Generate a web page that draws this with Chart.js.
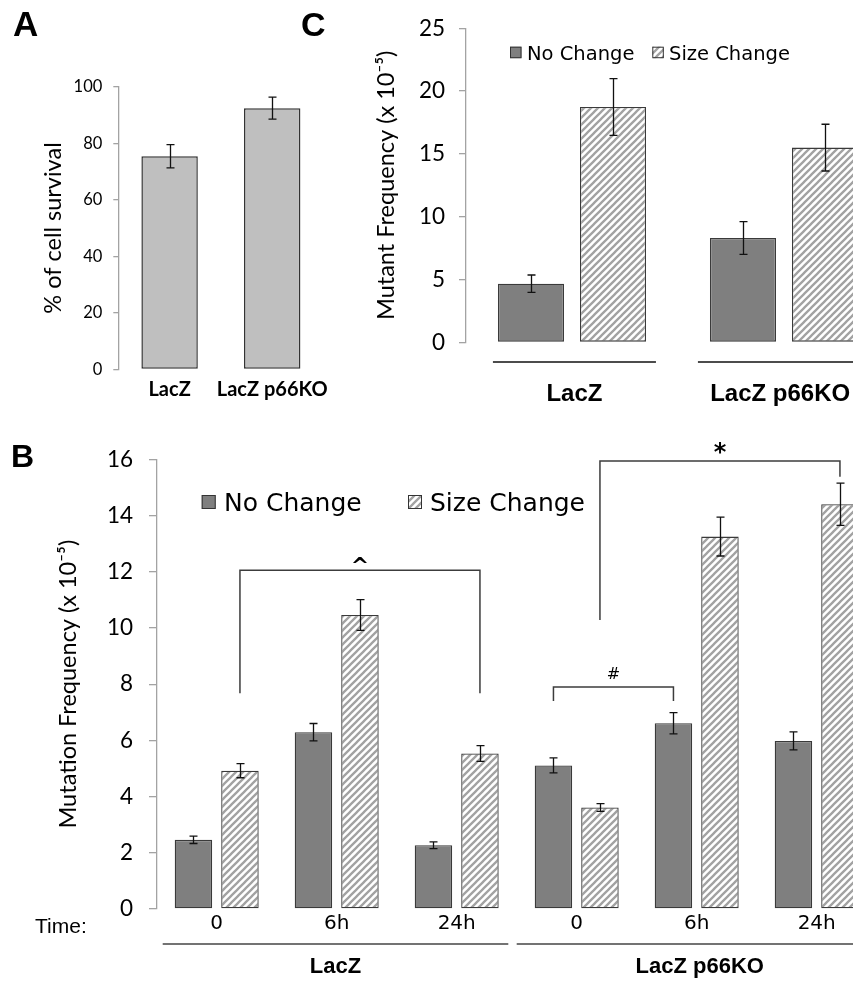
<!DOCTYPE html>
<html><head><meta charset="utf-8">
<script src="https://cdn.jsdelivr.net/npm/chart.js@4.4.0/dist/chart.umd.min.js"></script>
<style>
html,body{margin:0;padding:0;background:#fff;overflow:hidden;width:853px;height:981px;}
#wrap{position:relative;width:853px;height:981px;overflow:hidden;background:#fff;}
canvas{position:absolute;}
.pl{position:absolute;font-family:'Liberation Sans',Arial,sans-serif;font-weight:bold;line-height:1;color:#000;}
</style></head><body>
<div id="wrap">
<canvas id="cA" width="340" height="410" style="left:0px;top:0px"></canvas>
<canvas id="cC" width="600" height="420" style="left:300px;top:0px"></canvas>
<canvas id="cB" width="900" height="561" style="left:0px;top:420px"></canvas>
<div class="pl" style="left:13px;top:6px;font-size:35px">A</div>
<div class="pl" style="left:301px;top:7px;font-size:34px">C</div>
<div class="pl" style="left:11px;top:440px;font-size:32px">B</div>
</div>
<script>
// ---------- DATA ----------
// Panel A
const categoriesA = ['LacZ', 'LacZ p66KO'];
const survival = [75.4, 92.4];
const survivalErr = [4.1, 3.9];
// Panel C
const categoriesC = ['LacZ', 'LacZ p66KO'];
const cNoChange = [4.67, 8.30];
const cNoChangeErr = [0.69, 1.30];
const cSizeChange = [18.73, 15.50];
const cSizeChangeErr = [2.26, 1.86];
// Panel B
const timeLabels = ['0', '6h', '24h', '0', '6h', '24h'];
const groupLabels = ['LacZ', 'LacZ p66KO'];
const bNoChange = [2.46, 6.29, 2.27, 5.11, 6.61, 5.98];
const bNoChangeErr = [0.13, 0.31, 0.12, 0.27, 0.38, 0.32];
const bSizeChange = [4.92, 10.46, 5.53, 3.61, 13.25, 14.40];
const bSizeChangeErr = [0.25, 0.55, 0.28, 0.14, 0.69, 0.75];
const seriesNames = ['No Change', 'Size Change'];

// ---------- helpers ----------
function makeHatch(p, color, lw) {
  const c = document.createElement('canvas');
  c.width = p; c.height = p;
  const g = c.getContext('2d');
  g.fillStyle = '#fff'; g.fillRect(0, 0, p, p);
  g.strokeStyle = color; g.lineWidth = lw;
  g.beginPath();
  g.moveTo(-1, p + 1); g.lineTo(p + 1, -1);
  g.moveTo(-p / 2 - 1, p / 2 + 1); g.lineTo(p / 2 + 1, -p / 2 - 1);
  g.moveTo(p / 2 - 1, p * 1.5 + 1); g.lineTo(p * 1.5 + 1, p / 2 - 1);
  g.stroke();
  return g.createPattern(c, 'repeat');
}
const hatch = makeHatch(7, '#a2a2a2', 2.3);
const AXIS_GRAY = '#a3a3a3';

function yAxis(min, max, step, tickSize, tickPad, tickLen, width, title, titleSize, titlePad) {
  return {
    min: min, max: max,
    ticks: { stepSize: step, font: { family: 'Lato', size: tickSize }, color: '#000', padding: tickPad },
    grid: { display: true, drawOnChartArea: false, drawTicks: true, tickLength: tickLen, color: AXIS_GRAY, lineWidth: 1.3 },
    border: { display: true, color: AXIS_GRAY, width: 1.3 },
    title: { display: true, text: title, font: { family: 'Lato', size: titleSize }, color: '#000', padding: { top: titlePad, bottom: 0 } },
    afterFit: function (s) { s.width = width; }
  };
}

const errorBars = {
  id: 'errorBars',
  afterDatasetsDraw(chart) {
    const ctx = chart.ctx, ys = chart.scales.y;
    chart.data.datasets.forEach((ds, di) => {
      if (!ds.errors) return;
      const meta = chart.getDatasetMeta(di);
      meta.data.forEach((bar, i) => {
        const v = ds.data[i], e = ds.errors[i];
        const x = Math.round(bar.x) + 0.5;
        const y1 = ys.getPixelForValue(v + e), y2 = ys.getPixelForValue(v - e);
        ctx.save();
        ctx.strokeStyle = '#111'; ctx.lineWidth = 1.3;
        ctx.beginPath();
        ctx.moveTo(x, y1); ctx.lineTo(x, y2);
        ctx.moveTo(x - 4, y1); ctx.lineTo(x + 4, y1);
        ctx.moveTo(x - 4, y2); ctx.lineTo(x + 4, y2);
        ctx.stroke();
        ctx.restore();
      });
    });
  }
};

const customLegend = {
  id: 'customLegend',
  afterDraw(chart, args, o) {
    if (!o || !o.items) return;
    const ctx = chart.ctx;
    ctx.save();
    ctx.font = o.font;
    ctx.textBaseline = 'alphabetic';
    o.items.forEach((it, i) => {
      const ds = chart.data.datasets[i];
      ctx.fillStyle = ds.backgroundColor;
      ctx.fillRect(it.x, o.y, o.size, o.size);
      ctx.strokeStyle = '#333'; ctx.lineWidth = 1;
      ctx.strokeRect(it.x + 0.5, o.y + 0.5, o.size - 1, o.size - 1);
      ctx.fillStyle = '#000';
      ctx.fillText(ds.label, it.tx, o.baseline);
    });
    ctx.restore();
  }
};

const groupLines = {
  id: 'groupLines',
  afterDraw(chart, args, o) {
    if (!o || !o.groups) return;
    const ctx = chart.ctx, xs = chart.scales.x, bottom = chart.chartArea.bottom;
    ctx.save();
    o.groups.forEach((g, i) => {
      const x1 = xs.getPixelForValue(g.from), x2 = xs.getPixelForValue(g.to);
      ctx.strokeStyle = o.lineColor; ctx.lineWidth = 1.6;
      ctx.beginPath();
      ctx.moveTo(x1, bottom + o.lineDy); ctx.lineTo(x2, bottom + o.lineDy);
      ctx.stroke();
      ctx.fillStyle = '#000'; ctx.font = o.font;
      ctx.textAlign = 'center'; ctx.textBaseline = 'alphabetic';
      ctx.fillText(o.labels[i], (x1 + x2) / 2, bottom + o.labelDy);
    });
    if (o.extra) {
      ctx.font = o.extra.font; ctx.textAlign = 'left';
      ctx.fillText(o.extra.text, o.extra.x, bottom + o.extra.dy);
    }
    ctx.restore();
  }
};

const brackets = {
  id: 'brackets',
  afterDatasetsDraw(chart, args, o) {
    if (!o || !o.items) return;
    const ctx = chart.ctx, ys = chart.scales.y;
    ctx.save();
    o.items.forEach(b => {
      const xa = chart.getDatasetMeta(b.from[0]).data[b.from[1]].x;
      const xb = chart.getDatasetMeta(b.to[0]).data[b.to[1]].x;
      const yt = ys.getPixelForValue(b.top);
      const ya = ys.getPixelForValue(b.bottoms[0]);
      const yb = ys.getPixelForValue(b.bottoms[1]);
      ctx.strokeStyle = '#3c3c3c'; ctx.lineWidth = 1.5;
      ctx.beginPath();
      ctx.moveTo(xa, ya); ctx.lineTo(xa, yt); ctx.lineTo(xb, yt); ctx.lineTo(xb, yb);
      ctx.stroke();
      ctx.fillStyle = '#000'; ctx.font = b.font;
      ctx.textAlign = 'center'; ctx.textBaseline = 'alphabetic';
      ctx.fillText(b.sym, (xa + xb) / 2, yt + b.symDy);
    });
    ctx.restore();
  }
};

// ---------- Panel A ----------
new Chart(document.getElementById('cA'), {
  type: 'bar',
  data: {
    labels: categoriesA,
    datasets: [{
      label: '% of cell survival', data: survival, errors: survivalErr,
      backgroundColor: '#bfbfbf', borderColor: '#333', borderWidth: 1.5, borderSkipped: false,
      categoryPercentage: 0.55, barPercentage: 1
    }]
  },
  options: {
    responsive: false, animation: false,
    layout: { padding: { left: 0, top: 86.7, right: 14.7, bottom: 0 } },
    plugins: { legend: { display: false }, tooltip: { enabled: false } },
    scales: {
      x: {
        ticks: { font: { family: 'Lato', size: 20, weight: 'bold' }, color: '#000', padding: 8.7, autoSkip: false, maxRotation: 0 },
        grid: { display: false, drawTicks: false }, border: { display: false },
        afterFit: function (s) { s.height = 40.7; }
      },
      y: yAxis(0, 100, 20, 16.5, 11, 5, 118.3, '% of cell survival', 23.5, 38.9)
    }
  },
  plugins: [errorBars]
});

// ---------- Panel C ----------
new Chart(document.getElementById('cC'), {
  type: 'bar',
  data: {
    labels: categoriesC,
    datasets: [
      { label: seriesNames[0], data: cNoChange, errors: cNoChangeErr, backgroundColor: '#7f7f7f', borderColor: '#3a3a3a',
        borderWidth: 1.3, borderSkipped: false, categoryPercentage: 0.774, barPercentage: 0.805 },
      { label: seriesNames[1], data: cSizeChange, errors: cSizeChangeErr, backgroundColor: hatch, borderColor: '#3a3a3a',
        borderWidth: 1.3, borderSkipped: false, categoryPercentage: 0.774, barPercentage: 0.805 }
    ]
  },
  options: {
    responsive: false, animation: false,
    layout: { padding: { left: 0, top: 28.3, right: 10, bottom: 77.7 } },
    plugins: {
      legend: { display: false }, tooltip: { enabled: false },
      customLegend: { font: '19.5px "DejaVu Sans"', y: 46.7, size: 11.5, baseline: 60,
        items: [{ x: 210, tx: 227 }, { x: 352.3, tx: 369 }] },
      groupLines: { groups: [{ from: -0.373, to: 0.396 }, { from: 0.594, to: 1.37 }], labels: categoriesC,
        lineDy: 19.7, labelDy: 58.4, lineColor: '#111', font: 'bold 24px "Liberation Sans"' }
    },
    scales: {
      x: { display: false },
      y: yAxis(0, 25, 5, 22.5, 14, 7, 166, 'Mutant Frequency (x 10\u207B\u2075)', 23.5, 71.9)
    }
  },
  plugins: [errorBars, customLegend, groupLines]
});

// ---------- Panel B ----------
new Chart(document.getElementById('cB'), {
  type: 'bar',
  data: {
    labels: timeLabels,
    datasets: [
      { label: seriesNames[0], data: bNoChange, errors: bNoChangeErr, backgroundColor: '#7f7f7f', borderColor: '#3a3a3a',
        borderWidth: 1.3, borderSkipped: false, categoryPercentage: 0.775, barPercentage: 0.806 },
      { label: seriesNames[1], data: bSizeChange, errors: bSizeChangeErr, backgroundColor: hatch, borderColor: '#3a3a3a',
        borderWidth: 1.3, borderSkipped: false, categoryPercentage: 0.775, barPercentage: 0.806 }
    ]
  },
  options: {
    responsive: false, animation: false,
    layout: { padding: { left: 0, top: 39.3, right: 23.3, bottom: 0 } },
    plugins: {
      legend: { display: false }, tooltip: { enabled: false },
      customLegend: { font: '25px "DejaVu Sans"', y: 75, size: 14, baseline: 90.5,
        items: [{ x: 201.7, tx: 224 }, { x: 408, tx: 430 }] },
      groupLines: { groups: [{ from: -0.45, to: 2.43 }, { from: 2.5, to: 5.55 }], labels: groupLabels,
        lineDy: 35, labelDy: 64, lineColor: '#444', font: 'bold 22px "Liberation Sans"',
        extra: { text: 'Time:', x: 35, dy: 24, font: '21px "Liberation Sans"' } },
      brackets: { items: [
        { from: [1, 0], to: [1, 2], top: 12.05, bottoms: [7.68, 7.68], sym: '^', font: 'bold 22px "DejaVu Sans"', symDy: 3 },
        { from: [0, 3], to: [0, 4], top: 7.9, bottoms: [7.4, 7.4], sym: '#', font: '16px "DejaVu Sans"', symDy: -8 },
        { from: [1, 3], to: [1, 5], top: 15.94, bottoms: [10.28, 15.38], sym: '*', font: 'bold 24px "DejaVu Sans"', symDy: -0.5 }
      ] }
    },
    scales: {
      x: {
        ticks: { font: { family: 'DejaVu Sans', size: 20 }, color: '#000', padding: 3, autoSkip: false, maxRotation: 0 },
        grid: { display: false, drawTicks: false }, border: { display: false },
        afterFit: function (s) { s.height = 72; }
      },
      y: yAxis(0, 16, 2, 22.5, 16, 7.7, 156.7, 'Mutation Frequency (x 10\u207B\u2075)', 23.5, 53.9)
    }
  },
  plugins: [errorBars, customLegend, groupLines, brackets]
});
</script>
</body></html>
